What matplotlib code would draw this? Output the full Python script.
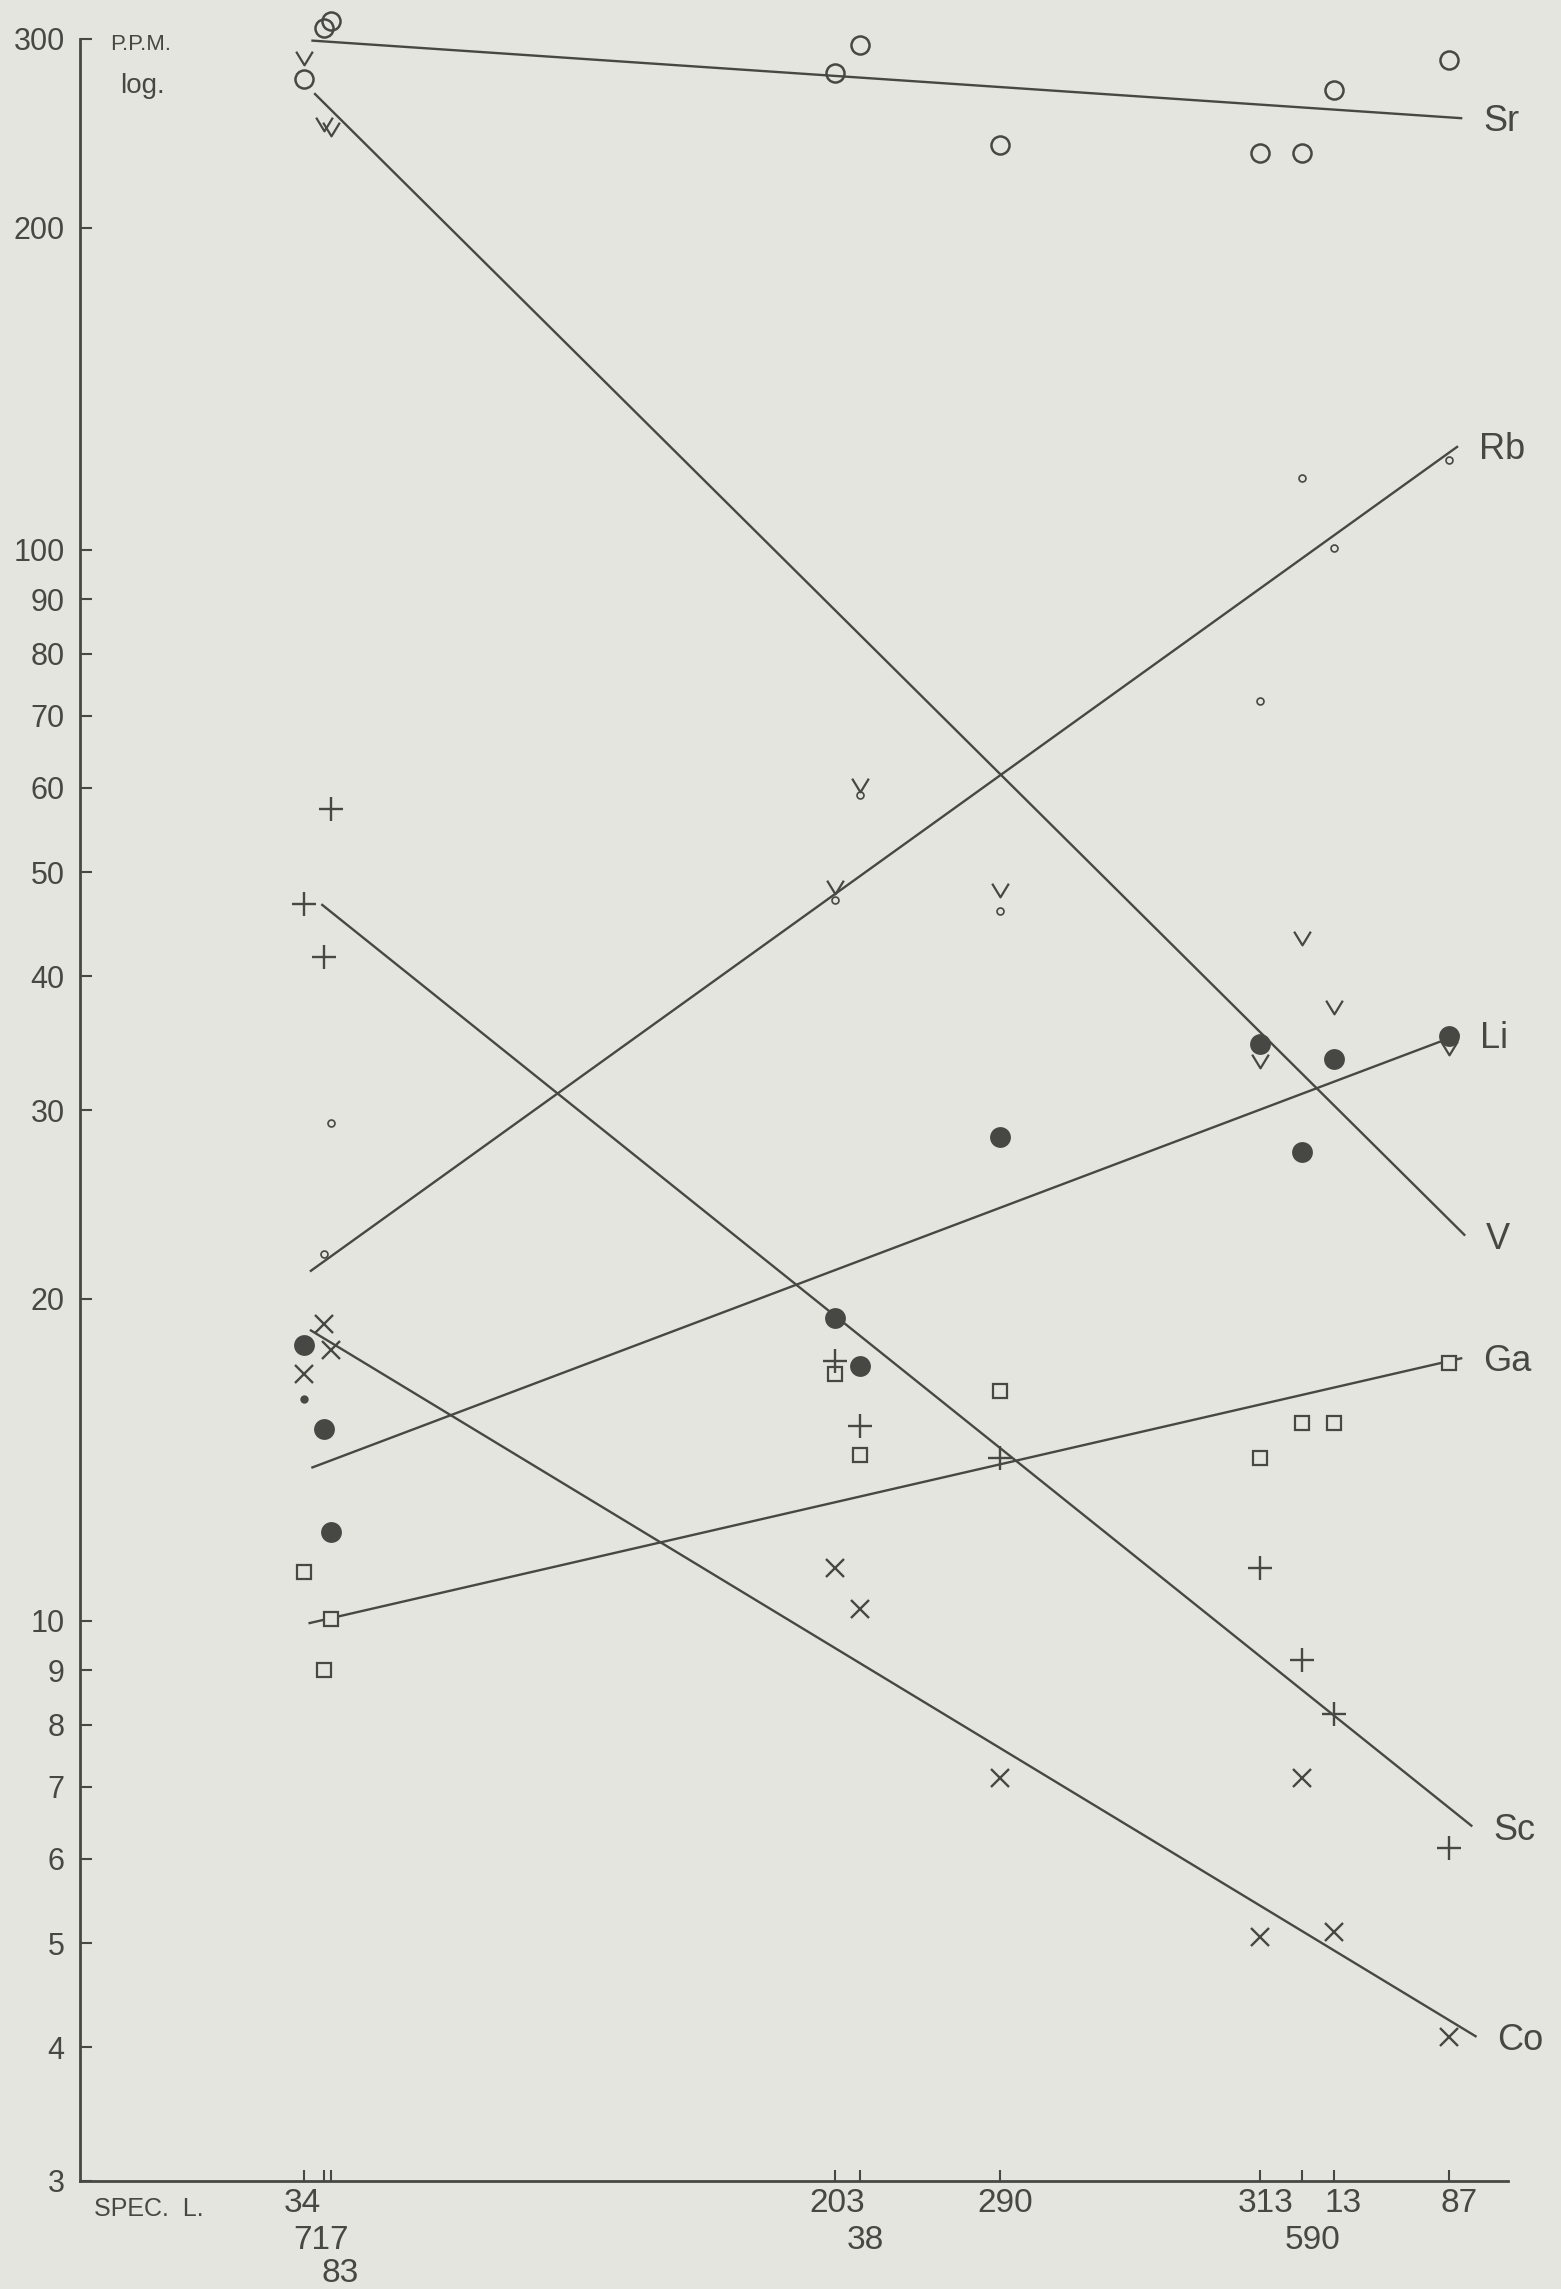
import matplotlib
matplotlib.use("Agg")
import matplotlib.pyplot as plt
from matplotlib.path import Path
from matplotlib.ticker import FixedLocator, NullLocator, FixedFormatter
from matplotlib import font_manager

# Specimens along the profile (position in distance units) and label row
specimens = ["34", "717", "83", "203", "38", "290", "313", "590", "13", "87"]
spec_pos = [15.7, 17.1, 17.6, 52.9, 54.6, 64.4, 82.6, 85.6, 87.8, 95.9]
label_row = [0, 1, 2, 0, 1, 0, 0, 1, 0, 0]

# Trace element contents, p.p.m.
sr = [275, 307, 312, 279, 296, 239, 235, 235, 269, 287]
rb = [16.1, 22.0, 29.2, 47.1, 59.0, 46.0, 72.3, 116.7, 100.5, 121.4]
v = [288, 250, 247, 48.5, 60.3, 48.1, 33.3, 43.4, 37.4, 34.3]
li = [18.1, 15.1, 12.1, 19.2, 17.3, 28.3, 34.6, 27.4, 33.5, 35.2]
ga = [11.1, 9.0, 10.05, 17.0, 14.3, 16.4, 14.2, 15.3, 15.3, 17.4]
sc = [46.7, 41.7, 57.3, 17.5, 15.2, 14.2, 11.2, 9.2, 8.19, 6.14]
co = [17.0, 18.95, 17.9, 11.2, 10.26, 7.14, 5.07, 7.14, 5.12, 4.09]

# Trend lines: start/end position and content
elements = ["Sr", "Rb", "V", "Li", "Ga", "Sc", "Co"]
fit_x0 = [16.2, 16.1, 16.4, 16.2, 16.0, 16.9, 16.1]
fit_y0 = [299, 21.2, 267, 13.9, 9.95, 46.7, 18.7]
fit_x1 = [96.8, 96.5, 97.0, 96.6, 96.8, 97.5, 97.8]
fit_y1 = [253, 125, 22.9, 35.3, 17.6, 6.43, 4.09]

y_ticks = [3, 4, 5, 6, 7, 8, 9, 10, 20, 30, 40, 50, 60, 70, 80, 90, 100, 200, 300]

BG = "#e5e5df"
INK = "#474744"

available = {f.name for f in font_manager.fontManager.ttflist}
NARROW = "Liberation Sans Narrow" if "Liberation Sans Narrow" in available else "Liberation Sans"
XLAB_SIZE = 29 if NARROW == "Liberation Sans Narrow" else 24
plt.rcParams["font.family"] = ["Liberation Sans", "DejaVu Sans"]

W, H = 1561, 2289
AX_TOP, AX_BOTTOM = 39, 2181
fig = plt.figure(figsize=(W / 100, H / 100), dpi=100, facecolor=BG)
ax = fig.add_axes([80 / W, (H - AX_BOTTOM) / H, 1428 / W, (AX_BOTTOM - AX_TOP) / H],
                  facecolor=BG)

ax.set_yscale("log")
ax.set_ylim(3, 300)
ax.set_xlim(0, 100)

# trend lines
for x0, y0, x1, y1 in zip(fit_x0, fit_y0, fit_x1, fit_y1):
    ax.plot([x0, x1], [y0, y1], color=INK, lw=1.7, solid_capstyle="butt",
            clip_on=False, zorder=2)

# chevron marker for vanadium
vee = Path([(-0.5, 0.41), (0.0, -0.41), (0.5, 0.41)],
           [Path.MOVETO, Path.LINETO, Path.LINETO])

mk = dict(linestyle="none", clip_on=False, zorder=3)
ax.plot(spec_pos, sr, marker="o", ms=13, mew=1.8, mfc="none", mec=INK, **mk)
ax.plot(spec_pos[1:], rb[1:], marker="o", ms=5, mew=1.2, mfc=BG, mec=INK, **mk)
ax.plot(spec_pos[:1], rb[:1], marker="o", ms=6, mew=0, mfc=INK, **mk)
ax.plot(spec_pos, v, marker=vee, ms=12, mew=1.6, mfc="none", mec=INK, **mk)
ax.plot(spec_pos, li, marker="o", ms=15, mew=0, mfc=INK, **mk)
ax.plot(spec_pos, ga, marker="s", ms=10, mew=1.6, mfc=BG, mec=INK, **mk)
ax.plot(spec_pos, sc, marker="+", ms=17.5, mew=1.7, mec=INK, **mk)
ax.plot(spec_pos, co, marker="x", ms=12.5, mew=1.7, mec=INK, **mk)

# element names at the right end of each trend line
for name, x1, y1 in zip(elements, fit_x1, fit_y1):
    ax.annotate(name, (x1, y1), xytext=(15, -9.5), textcoords="offset points",
                ha="left", va="baseline", fontsize=26, color=INK,
                annotation_clip=False)

# axes frame
for side in ("top", "right"):
    ax.spines[side].set_visible(False)
for side in ("left", "bottom"):
    ax.spines[side].set_linewidth(2.0)
    ax.spines[side].set_color(INK)
ax.spines["left"].set_bounds(3, 300)

ax.yaxis.set_major_locator(FixedLocator(y_ticks))
ax.yaxis.set_major_formatter(FixedFormatter([str(t) for t in y_ticks]))
ax.yaxis.set_minor_locator(NullLocator())
ax.tick_params(axis="y", direction="in", length=8.5, width=1.5, color=INK,
               labelsize=22, labelcolor=INK, pad=11)

ax.set_xticks(spec_pos)
ax.set_xticklabels([""] * len(spec_pos))
ax.tick_params(axis="x", direction="in", length=8, width=1.5, color=INK)

# specimen numbers, staggered in rows under the axis
row_base = [22.3, 49.0, 72.7]
label_dx = [-1, -2, 6, 1, 4, 4, 4, 7, 7, 7]
for name, xp, row, dx in zip(specimens, spec_pos, label_row, label_dx):
    ax.annotate(name, (xp, 0), xycoords=("data", "axes fraction"),
                xytext=(dx, -row_base[row]), textcoords="offset points",
                ha="center", va="baseline", fontsize=XLAB_SIZE,
                family=[NARROW, "DejaVu Sans"], color=INK,
                annotation_clip=False)

fig.text(94 / W, 1 - 2209 / H, "SPEC.  L.", ha="left", va="center",
         fontsize=18, color=INK)
fig.text(110 / W, 1 - 44 / H, "P.P.M.", ha="left", va="center",
         fontsize=16, color=INK, family=[NARROW, "DejaVu Sans"])
fig.text(120 / W, 1 - 93 / H, "log.", ha="left", va="baseline",
         fontsize=20, color=INK)

fig.savefig("out.png", dpi=100, facecolor=BG)
